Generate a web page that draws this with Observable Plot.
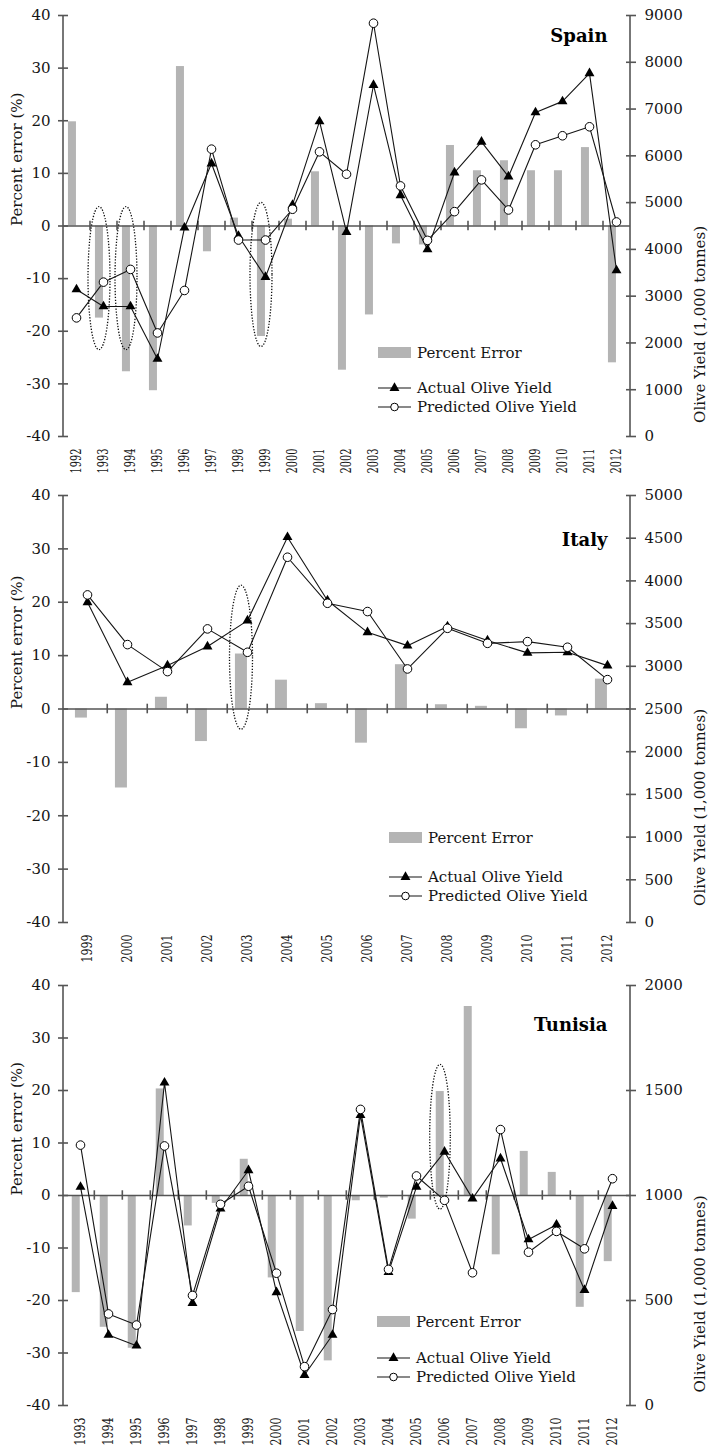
<!DOCTYPE html>
<html>
<head>
<meta charset="utf-8">
<script src="https://cdn.jsdelivr.net/npm/d3@7"></script>
<script src="https://cdn.jsdelivr.net/npm/@observablehq/plot@0.6"></script>
<style>
  body { margin: 0; background: #fff; }
  #chart { width: 709px; }
  #chart svg { display: block; }
</style>
</head>
<body>
<div id="chart"></div>
<script>
// ---------------- Data ----------------
const spainYears = [1992, 1993, 1994, 1995, 1996, 1997, 1998, 1999, 2000, 2001, 2002, 2003, 2004, 2005, 2006, 2007, 2008, 2009, 2010, 2011, 2012];
const spainError = [19.8, -17.5, -27.7, -31.3, 30.3, -4.9, 1.5, -21.0, 1.3, 10.3, -27.4, -16.9, -3.4, -3.6, 15.3, 10.5, 12.4, 10.5, 10.5, 14.9, -26.0];
const spainActual = [3143, 2780, 2780, 1657, 4464, 5835, 4286, 3407, 4950, 6736, 4371, 7514, 5157, 4000, 5643, 6300, 5557, 6928, 7164, 7764, 3550];
const spainPredicted = [2536, 3300, 3572, 2214, 3122, 6143, 4200, 4200, 4858, 6086, 5607, 8835, 5357, 4193, 4807, 5486, 4843, 6236, 6429, 6621, 4586];
const spainYieldTicks = [0, 1000, 2000, 3000, 4000, 5000, 6000, 7000, 8000, 9000];
const spainHighlights = [{year: 1993, top: 3.6, bottom: -23.6}, {year: 1994, top: 3.6, bottom: -23.6}, {year: 1999, top: 4.4, bottom: -23.0}];

const italyYears = [1999, 2000, 2001, 2002, 2003, 2004, 2005, 2006, 2007, 2008, 2009, 2010, 2011, 2012];
const italyError = [-1.7, -14.8, 2.2, -6.1, 10.3, 5.4, 1.0, -6.4, 8.3, 0.8, 0.5, -3.7, -1.3, 5.6];
const italyActual = [3750, 2812, 3008, 3231, 3535, 4512, 3770, 3398, 3242, 3465, 3301, 3157, 3164, 3008];
const italyPredicted = [3836, 3254, 2938, 3438, 3164, 4277, 3738, 3641, 2969, 3445, 3269, 3289, 3223, 2844];
const italyYieldTicks = [0, 500, 1000, 1500, 2000, 2500, 3000, 3500, 4000, 4500, 5000];
const italyHighlights = [{year: 2003, top: 23.1, bottom: -3.9}];

const tunisiaYears = [1993, 1994, 1995, 1996, 1997, 1998, 1999, 2000, 2001, 2002, 2003, 2004, 2005, 2006, 2007, 2008, 2009, 2010, 2011, 2012];
const tunisiaError = [-18.5, -25.1, -29.1, 20.3, -5.8, -1.5, 6.9, -15.7, -25.9, -31.5, -1.0, -0.5, -4.5, 19.8, 36.0, -11.3, 8.4, 4.4, -21.3, -12.6];
const tunisiaActual = [1041, 336, 285, 1537, 488, 937, 1120, 539, 145, 336, 1383, 635, 1041, 1208, 985, 1176, 791, 861, 550, 950];
const tunisiaPredicted = [1240, 436, 383, 1236, 524, 958, 1044, 630, 185, 457, 1410, 648, 1093, 977, 632, 1314, 730, 829, 746, 1080];
const tunisiaYieldTicks = [0, 500, 1000, 1500, 2000];
const tunisiaHighlights = [{year: 2006, top: 24.9, bottom: -2.7}];

const percentTicks = [-40, -30, -20, -10, 0, 10, 20, 30, 40];
const leftTitle = "Percent error (%)";
const rightTitle = "Olive Yield (1,000 tonnes)";
const legendLabels = ["Percent Error", "Actual Olive Yield", "Predicted Olive Yield"];

// ---------------- Style ----------------
const FONT = "'DejaVu Serif', 'Liberation Serif', serif";
const BAR = "#b4b4b4";
const INK = "#151515";
const AXIS = "#555555";

function panel(cfg) {
  const width = 709, marginLeft = 63, marginRight = 79;
  const {years, error, actual, predicted, yieldMax, yieldTicks, highlights, title} = cfg;
  const n = years.length;
  const step = (width - marginLeft - marginRight) / n;
  const bw = step * 0.3;
  const toPct = d3.scaleLinear([0, yieldMax], [-40, 40]);
  const rows = years.map((year, i) => ({year, error: error[i], actual: toPct(actual[i]), predicted: toPct(predicted[i])}));
  const triR = 3.7, circR = 4.3;

  const decor = (index, scales, values, dims) => {
    const {x, y} = scales;
    const g = d3.create("svg:g");
    const left = dims.marginLeft, right = dims.width - dims.marginRight;
    // axis lines
    for (const xx of [left, right]) {
      g.append("line").attr("x1", xx).attr("x2", xx).attr("y1", y(40)).attr("y2", y(-40))
        .attr("stroke", AXIS).attr("stroke-width", 1.6);
    }
    // dotted highlight ellipses
    for (const h of highlights) {
      const cx = x(h.year);
      const y1 = y(h.top), y2 = y(h.bottom);
      g.append("ellipse").attr("cx", cx).attr("cy", (y1 + y2) / 2)
        .attr("rx", cfg.ellipseRx).attr("ry", Math.abs(y2 - y1) / 2)
        .attr("fill", "none").attr("stroke", "#111").attr("stroke-width", 1.3)
        .attr("stroke-dasharray", "1.3,1.6");
    }
    // legend
    const L = cfg.legend;
    const sw = 33;
    g.append("rect").attr("x", L.x).attr("y", L.swatchY).attr("width", sw).attr("height", 11).attr("fill", BAR);
    const texts = [[L.swatchY + 5.5, legendLabels[0]], [L.actualY, legendLabels[1]], [L.predictedY, legendLabels[2]]];
    for (const [ty, t] of texts) {
      g.append("text").attr("x", L.x + sw + 6).attr("y", ty).attr("dy", "0.35em")
        .attr("text-anchor", "start").attr("fill", INK).attr("font-size", 15).text(t);
    }
    for (const [ly, sym] of [[L.actualY, "tri"], [L.predictedY, "circ"]]) {
      g.append("line").attr("x1", L.x).attr("x2", L.x + sw).attr("y1", ly).attr("y2", ly)
        .attr("stroke", INK).attr("stroke-width", 1.1);
      if (sym === "tri") {
        g.append("path").attr("transform", `translate(${L.x + sw / 2},${ly})`)
          .attr("d", d3.symbol(d3.symbolTriangle, Math.PI * triR * triR)()).attr("fill", "#000");
      } else {
        g.append("circle").attr("cx", L.x + sw / 2).attr("cy", ly).attr("r", circR - 0.5)
          .attr("fill", "#fff").attr("stroke", "#000");
      }
    }
    return g.node();
  };

  const svg = Plot.plot({
    width, height: cfg.height, marginLeft, marginRight, marginTop: cfg.marginTop, marginBottom: cfg.marginBottom,
    style: {fontFamily: FONT, fontSize: "15px", color: INK, background: "#fff", overflow: "visible"},
    x: {type: "band", domain: years, paddingInner: 0.7, paddingOuter: 0.35, axis: null},
    y: {domain: [-40, 40], axis: null},
    marks: [
      Plot.barY(rows, {x: "year", y: "error", fill: BAR, dx: -bw / 2}),
      Plot.ruleY([0], {stroke: AXIS, strokeWidth: 1.6}),
      Plot.ruleX(years.slice(1), {x: d => d, y1: -0.9, y2: 0.9, dx: -step / 2, stroke: AXIS, strokeWidth: 1.6}),
      Plot.line(rows, {x: "year", y: "actual", stroke: INK, strokeWidth: 1.1}),
      Plot.line(rows, {x: "year", y: "predicted", stroke: INK, strokeWidth: 1.1}),
      decor,
      Plot.dot(rows, {x: "year", y: "actual", symbol: "triangle", r: triR, fill: "#000", stroke: "none"}),
      Plot.dot(rows, {x: "year", y: "predicted", symbol: "circle", r: circR, fill: "#fff", stroke: "#000", strokeWidth: 1}),
      Plot.axisY(percentTicks, {anchor: "left", tickSize: 0, tickPadding: 13, label: null, fill: INK, tickFormat: d => String(d)}),
      Plot.axisY(percentTicks, {anchor: "left", tickSize: 10, dx: 5, tickFormat: () => "", label: null, stroke: AXIS, strokeWidth: 1.6}),
      Plot.axisY(yieldTicks.map(toPct), {anchor: "right", tickSize: 0, tickPadding: 14, label: null, fill: INK,
        tickFormat: d => String(Math.round(toPct.invert(d)))}),
      Plot.axisY(yieldTicks.map(toPct), {anchor: "right", tickSize: 10, dx: -5, tickFormat: () => "", label: null, stroke: AXIS, strokeWidth: 1.6}),
      Plot.axisX(years, {anchor: "bottom", tickSize: 0, tickPadding: 12, tickRotate: -90, label: null, fill: INK, tickFormat: d => String(d)}),
      Plot.text([leftTitle], {text: d => d, frameAnchor: "left", rotate: -90, dx: -46, fill: INK, fontSize: 15}),
      Plot.text([rightTitle], {text: d => d, frameAnchor: "right", rotate: -90, dx: 70, fill: INK, fontSize: 15}),
      Plot.text([title], {text: d => d, frameAnchor: "top-right", textAnchor: "end", lineAnchor: "middle",
        dx: -23, dy: cfg.titleDy, fontWeight: "bold", fontSize: 18, fill: "#000"})
    ]
  });
  // condense rotated year labels to the reference's length
  svg.querySelectorAll('g[aria-label="x-axis tick label"] text').forEach(t => {
    t.setAttribute("textLength", cfg.labelLength);
    t.setAttribute("lengthAdjust", "spacingAndGlyphs");
  });
  return svg;
}

const chart = document.getElementById("chart");
chart.append(panel({
  years: spainYears, error: spainError, actual: spainActual, predicted: spainPredicted,
  yieldMax: 9000, yieldTicks: spainYieldTicks, highlights: spainHighlights, title: "Spain",
  height: 480, marginTop: 15, marginBottom: 44, titleDy: 21, labelLength: 25, ellipseRx: 11,
  legend: {x: 378, swatchY: 347, actualY: 388, predictedY: 407}
}));
chart.append(panel({
  years: italyYears, error: italyError, actual: italyActual, predicted: italyPredicted,
  yieldMax: 5000, yieldTicks: italyYieldTicks, highlights: italyHighlights, title: "Italy",
  height: 485, marginTop: 15, marginBottom: 43, titleDy: 45, labelLength: 28, ellipseRx: 11.5,
  legend: {x: 389, swatchY: 352, actualY: 397, predictedY: 416}
}));
chart.append(panel({
  years: tunisiaYears, error: tunisiaError, actual: tunisiaActual, predicted: tunisiaPredicted,
  yieldMax: 2000, yieldTicks: tunisiaYieldTicks, highlights: tunisiaHighlights, title: "Tunisia",
  height: 486, marginTop: 20, marginBottom: 46, titleDy: 40, labelLength: 28, ellipseRx: 10.3,
  legend: {x: 377, swatchY: 351, actualY: 393, predictedY: 412}
}));
</script>
</body>
</html>
